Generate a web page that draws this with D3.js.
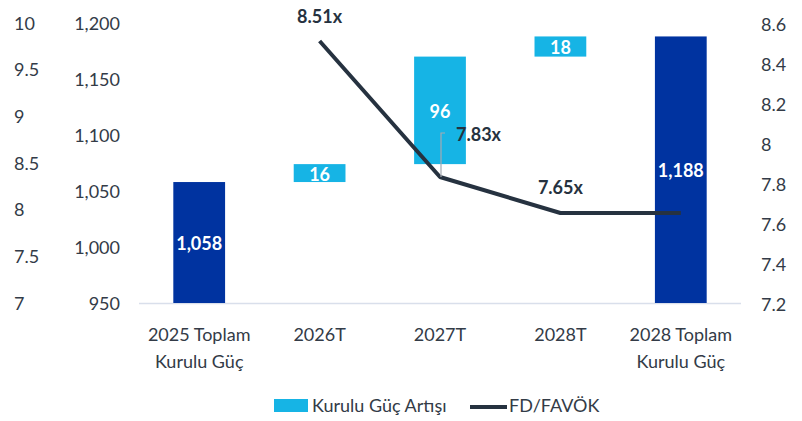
<!DOCTYPE html>
<html><head><meta charset="utf-8">
<script src="https://cdn.jsdelivr.net/npm/d3@7/dist/d3.min.js"></script>
<style>
html,body{margin:0;padding:0;background:#fff;}
svg text{font-family:Lato,"Open Sans",sans-serif;}
</style></head>
<body>
<svg id="chart" width="802" height="421"></svg>
<script>
// ---- data ----
const categories = [["2025 Toplam","Kurulu Güç"],["2026T"],["2027T"],["2028T"],["2028 Toplam","Kurulu Güç"]];
const barType = ["total","inc","inc","inc","total"];
const barValues = [1058, 16, 96, 18, 1188];
const barLabels = ["1,058","16","96","18","1,188"];
const lineValues = [null, 8.51, 7.83, 7.65, 7.65];
const lineLabels = [null, "8.51x", "7.83x", "7.65x", null];
const leftTicks = [7, 7.5, 8, 8.5, 9, 9.5, 10];
const barTicks = [950, 1000, 1050, 1100, 1150, 1200];
const rightTicks = [7.2, 7.4, 7.6, 7.8, 8, 8.2, 8.4, 8.6];
const legendLabels = ["Kurulu Güç Artışı", "FD/FAVÖK"];

const colors = {total:"#0033a0", inc:"#16b4e5", line:"#263240", text:"#333b47", axis:"#d9dfeb", leader:"#a5aab2"};

const svg = d3.select("#chart");
const plotTop = 23, plotBottom = 303, plotLeft = 139, plotRight = 741;

const x = d3.scaleBand().domain(d3.range(categories.length)).range([plotLeft, plotRight]).paddingInner(0.57).paddingOuter(0.285);
const yBar = d3.scaleLinear().domain([950, 1200]).range([plotBottom, plotTop]);
const yLeft = d3.scaleLinear().domain([7, 10]).range([plotBottom, plotTop]);
const yRight = d3.scaleLinear().domain([7.2, 8.6]).range([plotBottom, plotTop]);

// waterfall bases
let cum = 0;
const bars = barValues.map((v, i) => {
  let y0, y1;
  if (barType[i] === "total") { y0 = 950; y1 = v; cum = v; }
  else { y0 = cum; y1 = cum + v; cum = y1; }
  return {i, y0, y1, type: barType[i], label: barLabels[i]};
});

// axes (labels only)
const axLeft = d3.axisLeft(yLeft).tickValues(leftTicks).tickSize(0).tickFormat(d3.format("~g"));
const gL = svg.append("g").attr("transform","translate(14,0)").call(axLeft);
gL.select(".domain").remove();
gL.selectAll("text").attr("text-anchor","start").attr("x",0).attr("dy","0.35em")
  .attr("fill",colors.text).style("font-size","18px");

const axBar = d3.axisLeft(yBar).tickValues(barTicks).tickSize(0).tickFormat(d3.format(","));
const gB = svg.append("g").attr("transform","translate(120,0)").call(axBar);
gB.select(".domain").remove();
gB.selectAll("text").attr("x",0).attr("dy","0.35em").attr("fill",colors.text).style("font-size","18px");

const axRight = d3.axisRight(yRight).tickValues(rightTicks).tickSize(0).tickFormat(d3.format("~g"));
const gR = svg.append("g").attr("transform","translate(761,1)").call(axRight);
gR.select(".domain").remove();
gR.selectAll("text").attr("x",0).attr("dy","0.35em").attr("fill",colors.text).style("font-size","18px");

// baseline
svg.append("line").attr("x1",plotLeft).attr("x2",plotRight).attr("y1",plotBottom+0.5).attr("y2",plotBottom+0.5)
  .attr("stroke",colors.axis).attr("stroke-width",1.5);

// bars
svg.selectAll("rect.bar").data(bars).enter().append("rect").attr("class","bar")
  .attr("x", d => x(d.i)).attr("width", x.bandwidth())
  .attr("y", d => yBar(d.y1)).attr("height", d => yBar(d.y0) - yBar(d.y1))
  .attr("fill", d => colors[d.type]);

svg.selectAll("text.barlbl").data(bars).enter().append("text").attr("class","barlbl")
  .attr("x", d => x(d.i) + x.bandwidth()/2)
  .attr("y", d => (yBar(d.y1) + yBar(d.y0))/2 + 1)
  .attr("dy","0.36em").attr("text-anchor","middle").attr("fill","#fff")
  .style("font-size","18px").style("font-weight","700").text(d => d.label);

// x labels
const gx = svg.append("g");
categories.forEach((lines, i) => {
  const t = gx.append("text").attr("text-anchor","middle").attr("fill",colors.text).style("font-size","18px");
  lines.forEach((s, k) => t.append("tspan").attr("x", x(i) + x.bandwidth()/2).attr("y", 341 + k*27).text(s));
});

// line
const cx = i => x(i) + x.bandwidth()/2;
const lineGen = d3.line().defined(d => d != null).x((d, i) => cx(i)).y(d => yRight(d));
svg.append("path").datum(lineValues).attr("d", lineGen).attr("fill","none")
  .attr("stroke",colors.line).attr("stroke-width",4).attr("stroke-linejoin","round");

// line labels
svg.append("text").attr("x", cx(1)).attr("y", yRight(lineValues[1]) - 24).attr("dy","0.35em")
  .attr("text-anchor","middle").attr("fill",colors.line).style("font-size","18px").style("font-weight","700").text(lineLabels[1]);
const p2y = yRight(lineValues[2]);
svg.append("polyline").attr("points", `${cx(2)+1},${p2y} ${cx(2)+1},${p2y-44} ${cx(2)+5},${p2y-44}`)
  .attr("fill","none").attr("stroke",colors.leader).attr("stroke-width",1.2);
svg.append("text").attr("x", cx(2) + 16).attr("y", p2y - 42).attr("dy","0.35em")
  .attr("text-anchor","start").attr("fill",colors.line).style("font-size","18px").style("font-weight","700").text(lineLabels[2]);
svg.append("text").attr("x", cx(3)).attr("y", yRight(lineValues[3]) - 25).attr("dy","0.35em")
  .attr("text-anchor","middle").attr("fill",colors.line).style("font-size","18px").style("font-weight","700").text(lineLabels[3]);

// legend
const lg = svg.append("g");
lg.append("rect").attr("x",274).attr("y",399).attr("width",34).attr("height",13).attr("fill",colors.inc);
lg.append("text").attr("x",312).attr("y",406).attr("dy","0.35em").attr("fill",colors.text).style("font-size","18px").text(legendLabels[0]);
lg.append("line").attr("x1",470).attr("x2",507).attr("y1",407).attr("y2",407).attr("stroke",colors.line).attr("stroke-width",4);
lg.append("text").attr("x",509).attr("y",406).attr("dy","0.35em").attr("fill",colors.text).style("font-size","18px").text(legendLabels[1]);
</script>
</body></html>
